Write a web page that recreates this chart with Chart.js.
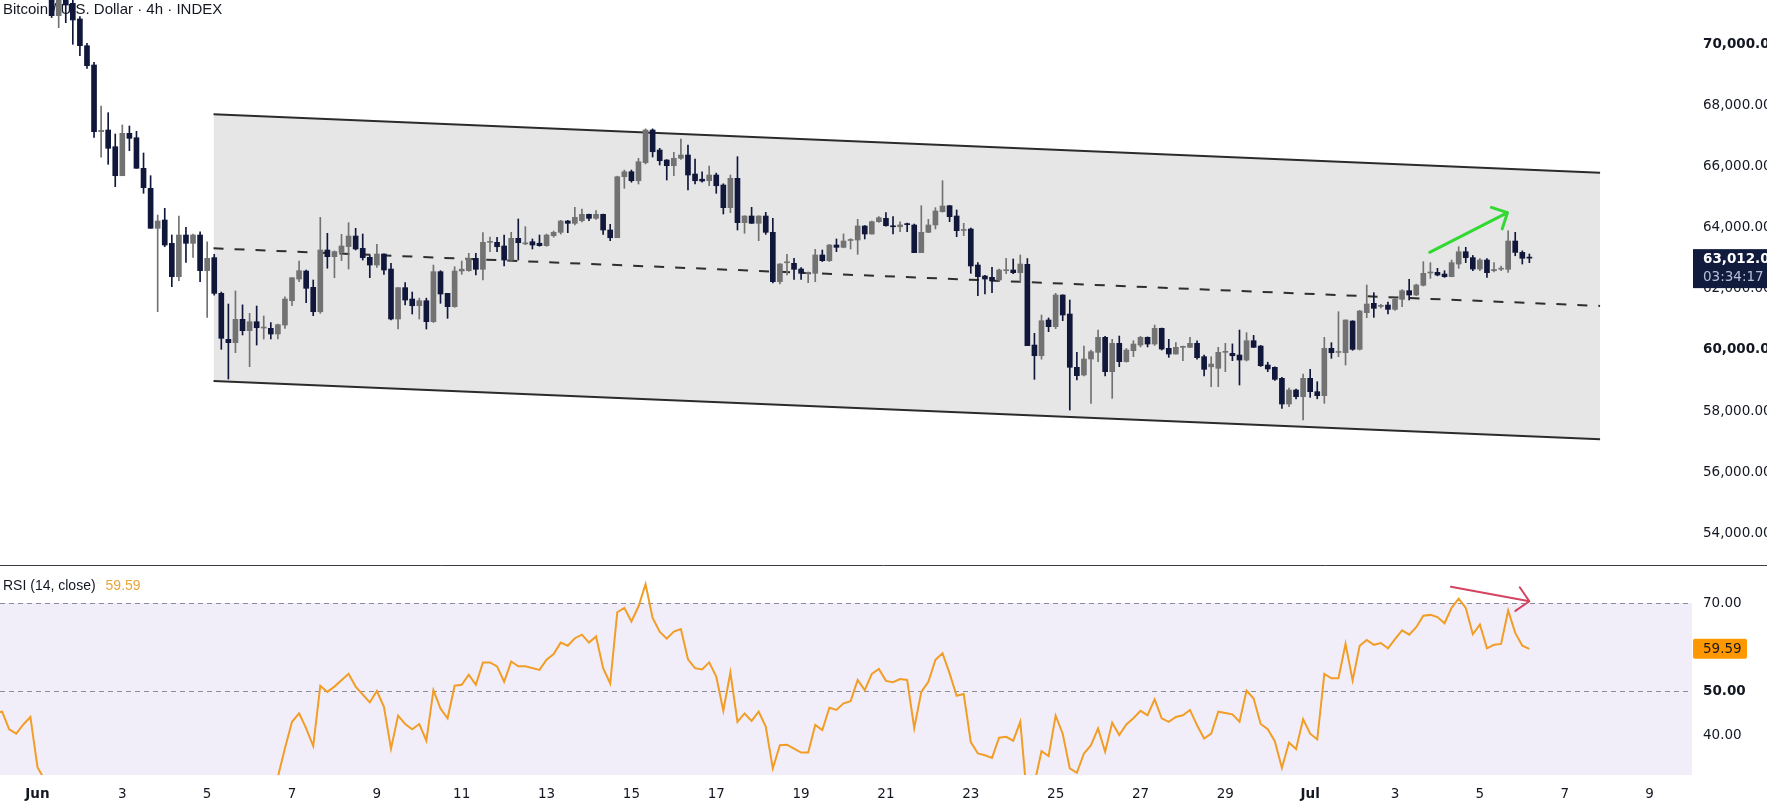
<!DOCTYPE html>
<html>
<head>
<meta charset="utf-8">
<script src="https://cdn.jsdelivr.net/npm/chart.js@4.4.1/dist/chart.umd.min.js"></script>
<style>
  html, body { margin: 0; padding: 0; background: #ffffff; overflow: hidden; }
  #graficoPreco { position: absolute; left: 0; top: 0; }
  #graficoRsi { position: absolute; left: 0; top: 565px; }
</style>
</head>
<body>
<canvas id="graficoPreco" width="1767" height="565"></canvas>
<canvas id="graficoRsi" width="1767" height="237"></canvas>
<script>
// candles, 4h bars; bar index 1 = Jun 1 00:00
const primeiraBarra = 3;
const aberturas = [
  71750,70961,71650,71367,70853,69977,69344,67160,67213,66665,
  65714,67104,66960,65957,65300,63990,64262,63498,62405,63770,
  63498,63770,62602,63028,61858,60350,60240,61005,60633,60928,
  60720,60710,60524,60819,61616,62327,62590,62055,61255,63278,
  63060,63200,63390,63737,63333,63039,62786,63147,62655,61016,
  62044,61671,61452,61616,60928,62568,61858,61420,62590,62600,
  63006,62645,63530,63530,63410,62950,63661,63480,63550,63500,
  63420,63748,63858,64229,64153,64240,64449,64317,64449,63934,
  63681,65681,65845,65550,66140,67213,66557,66229,66042,66285,
  66393,65770,65600,65550,65737,65409,64666,65628,64174,64393,
  64153,64393,63858,62240,62860,62842,62655,62514,62514,63115,
  62928,63442,63366,63590,63606,64065,63803,64207,64317,64060,
  64040,64130,64098,63190,63858,64098,64535,64731,64393,63920,
  63967,62786,62426,62383,62295,62600,62623,62535,62808,60163,
  59813,60983,60764,61803,61180,59432,59180,59705,59924,60415,
  59290,60218,59617,59977,60163,60415,60196,60710,60054,59868,
  60087,60087,60218,59781,59450,59400,59923,59890,59835,59671,
  60305,60130,59508,59432,59071,58229,58688,58470,59071,58634,
  58503,60054,59920,59911,60950,60022,61223,61530,61430,61475,
  61333,61661,61945,61803,62120,62525,62546,62490,62405,62819,
  63222,63028,62655,62950,62600,62650,62645,63573,63200,63040
];
const maximas = [
  71900,71900,71800,71500,70928,70055,69432,68000,67780,67082,
  67377,67344,67170,66459,65714,64426,64645,63770,64393,64022,
  63800,63878,63550,63137,61900,61507,61934,61480,61202,61442,
  61114,60900,60850,61747,62370,62917,62620,62295,64350,63826,
  63250,63793,64174,63990,63803,63100,63465,63150,62842,62044,
  62208,61900,61700,61700,62786,62600,61858,62732,62917,63170,
  63170,63847,63700,63694,63770,63858,64295,64043,63640,63770,
  63800,63900,64250,64250,64678,64623,64460,64570,64460,64120,
  65700,65900,65900,66285,67250,67250,66612,66240,66481,66918,
  66721,66262,65845,66032,65800,65450,65737,66338,64400,64678,
  64400,64514,64317,62830,63137,63006,62700,62560,63300,63278,
  63460,63640,63803,63650,64284,64080,64230,64371,64503,64371,
  64200,64160,64130,64731,64284,64666,65550,64740,64590,64153,
  64000,62863,62450,62711,62650,63006,62983,63115,63000,60546,
  61147,61050,61858,61810,61639,59924,60130,60000,60655,60450,
  60350,60458,60050,60306,60450,60430,60819,60720,60350,60240,
  60130,60415,60300,59830,59781,60087,60218,60200,60655,60567,
  60480,60150,59600,59450,59100,58750,58720,59213,59366,58960,
  60415,60240,61255,60990,60960,61300,62131,61880,61500,61570,
  61700,61980,62317,62160,62894,62863,62677,62600,62950,63386,
  63366,63100,63000,63000,62863,62750,63911,63858,63250,63147
];
const minimas = [
  70900,70567,70731,70022,69650,69235,66973,66318,66088,65354,
  65714,66534,65957,65137,63990,61255,63386,62075,62273,62875,
  63039,62240,61071,61800,60022,59048,59912,60491,59453,60163,
  60360,60360,60360,60710,61452,62240,61550,61124,61202,62680,
  62370,62930,62655,63280,62950,62370,62710,62480,60983,60688,
  61475,61180,61016,60688,60900,61530,61038,61400,62480,62580,
  62458,62295,63222,63222,62754,62940,62950,63450,63311,63400,
  63400,63700,63800,63847,64100,64200,64240,64280,63793,63583,
  63681,65300,65500,65442,66100,66328,66065,65573,65714,66250,
  65245,65442,65500,65386,65137,64459,64503,63934,63826,64150,
  63583,63793,62200,62163,62458,62317,62317,62208,62240,62900,
  62900,63222,63350,63311,63137,63640,63800,64180,64060,63803,
  63880,63880,63190,63190,63850,63967,64520,64207,63716,63748,
  62514,61780,61836,61880,62250,62500,62500,62240,60141,59038,
  59700,60600,60700,60961,58032,59015,59150,58251,59617,59148,
  58415,59453,59600,59781,60100,60100,60150,60000,59759,59860,
  59650,60080,59700,59147,58798,58798,59290,59650,58852,59640,
  60080,59460,59290,59000,58087,58141,58400,57704,58448,58400,
  58251,59727,59781,59508,59990,60000,61059,61071,61380,61180,
  61300,61420,61639,61780,62100,62350,62430,62380,62400,62677,
  62863,62600,62600,62383,62560,62600,62546,63090,62819,62863
];
const fechamentos = [
  70961,71600,71311,70820,69977,69321,67157,67200,66613,65714,
  67104,66940,65957,65321,63990,64229,63442,62405,63770,63498,
  63770,62602,63006,61858,60383,60240,61005,60633,60928,60731,
  60735,60524,60830,61671,62370,62600,62022,61255,63278,63060,
  63225,63410,63737,63311,63028,62786,63147,62623,61016,62044,
  61638,61452,61616,60928,62568,61836,61420,62590,62650,63006,
  62645,63530,63560,63386,62950,63661,63517,63500,63442,63420,
  63770,63858,64229,64153,64350,64449,64317,64449,63934,63681,
  65681,65845,65550,66173,67213,66501,66206,66042,66285,66393,
  65737,65550,65540,65737,65386,64666,65628,64174,64393,64153,
  64393,63858,62240,62819,62880,62645,62514,62540,63115,62928,
  63442,63366,63573,63610,64065,63803,64207,64338,64075,64040,
  64100,64110,63190,63858,64098,64557,64721,64371,63913,63940,
  62754,62405,62327,62273,62623,62620,62535,62819,60141,59813,
  60961,60764,61803,61147,59432,59158,59705,59945,60415,59290,
  60218,59617,60000,60196,60415,60196,60710,60032,59868,60087,
  60100,60218,59748,59366,59540,59923,59935,59813,59671,60305,
  60087,59485,59377,59038,58229,58688,58470,59071,58634,58503,
  60054,59911,59940,60983,60022,61278,61507,61366,61450,61333,
  61661,61945,61803,62131,62514,62545,62458,62405,62863,63222,
  63028,62655,62950,62535,62640,62670,63573,63200,63006,63012.09
];

const rsiBarras = [
  -5,-4,-3,-2,-1,0,1,2,8,18,28,35,36,37,38,39,40,41,42,43,45,46,48,49,50,
  51,52,53,54,55,56,57,58,59,60,61,62,63,64,65,66,67,68,69,70,72,73,74,75,
  76,77,78,79,80,81,82,83,84,85,86,87,88,89,90,91,92,93,94,95,96,97,98,99,
  100,101,102,103,104,105,106,107,108,109,110,111,112,113,114,115,116,117,
  118,119,120,121,122,123,124,125,126,127,128,129,130,131,132,133,134,135,
  136,137,138,139,140,141,142,143,144,145,146,147,148,149,150,151,152,153,
  154,155,156,157,158,159,160,161,162,163,164,165,166,167,168,169,170,171,
  172,173,174,175,176,177,178,179,180,181,182,183,184,185,186,187,188,189,
  190,191,192,193,194,195,196,197,198,199,200,201,202,203,204,205,206,207,
  208,209,210,211,212
];
const rsiValores = [
  45.0,45.3,41.3,40.3,42.4,44.1,32.7,29.8,22,20,24,30.5,37,43,44.9,41.5,37.5,51.2,49.8,51,53.9,51,47.4,50,46.4,
  36.9,44.4,42.5,41.3,42.5,38.7,50.2,46,43.8,51.2,51.4,53.7,51.4,56.5,56.5,55.6,52.1,56.7,55.6,55.6,54.8,57.1,58.4,61,
  60.3,62,62.8,61,62.4,55.2,51.7,67.9,68.9,65.8,69.2,74.3,66.6,63.5,61.9,63.5,64.1,57.2,55.2,54.9,56.5,53.3,45.5,54.2,
  43,44.9,43.2,45.3,41.9,32.4,37.7,37.8,36.9,36,36,42.3,41.1,46.2,45.7,47.2,47.7,52.5,
  50.2,53.9,55,52.3,52,52.7,52.5,41.6,49.8,52.1,57.1,58.6,54,48.9,49.3,38.4,35.8,35.4,
  34.8,39.4,39.6,38.7,43,25,29,36.3,35.2,44.4,40.3,32.4,31.4,35.8,37.7,41.5,36.2,42.8,
  40,42.4,43.8,45.5,44.5,48.1,43.8,43,44.1,44.5,45.7,42.2,39.2,40.3,45.3,45,44.7,43,
  50.1,48.3,42.5,41.3,38.6,32.5,38.3,36.8,43.6,40.3,39,53.9,52.9,52.9,60.7,52.4,60.3,61.6,
  60.5,60.9,59.7,61.8,63.8,62.8,64.5,67.1,67.3,66.8,65.4,68.9,71,68.9,62.9,65.1,59.7,60.5,
  60.7,68.3,63.2,60.3,59.59
];
const rsiNiveis = [70, 50, 30];

// drawn channel and arrows (bar index, price)
const canalX = [25.9, 222.0];
const canalTopo = [67728, 65813];
const canalMeio = [63334, 61445];
const canalBase = [58983, 57072];
const setaPrecoX = [197.9, 208.9];
const setaPrecoY = [63203, 64502];
const setaRsiX = [200.9, 212.0];
const setaRsiY = [73.7, 70.4];

// axes
const diasBarras = [1,13,25,37,49,61,73,85,97,109,121,133,145,157,169,181,193,205,217,229];
const diasRotulos = ["Jun","3","5","7","9","11","13","15","17","19","21","23","25","27","29","Jul","3","5","7","9"];
const precoTicks = [54000,56000,58000,60000,62000,64000,66000,68000,70000];
const precoNegrito = [60000, 70000];
const rsiTicks = [40, 50, 60, 70];
const rsiNegrito = [50];

const titulo = "Bitcoin / U.S. Dollar \u00b7 4h \u00b7 INDEX";
const contagem = "03:34:17";
const xMin = -4.3, xMax = 235.0;

const corAlta = "#727272";
const corBaixa = "#10173a";
const fonteEixo = "DejaVu Sans";
const tamEixo = 13.5;

Chart.defaults.font.family = fonteEixo;
Chart.defaults.color = "#131722";

const corBarra = fechamentos.map((c, i) => (c >= aberturas[i] ? corAlta : corBaixa));
const corpos = fechamentos.map((c, i) => ({ x: primeiraBarra + i, y: [aberturas[i], c] }));
const pavios = fechamentos.map((c, i) => ({ x: primeiraBarra + i, y: [minimas[i], maximas[i]] }));

function desenharSeta(chart, xs, ys, cor, largura) {
  const { ctx, scales } = chart;
  const x1 = scales.x.getPixelForValue(xs[0]);
  const y1 = scales.y.getPixelForValue(ys[0]);
  const x2 = scales.x.getPixelForValue(xs[1]);
  const y2 = scales.y.getPixelForValue(ys[1]);
  const ang = Math.atan2(y2 - y1, x2 - x1);
  const ponta = 17;
  ctx.save();
  ctx.strokeStyle = cor;
  ctx.lineWidth = largura;
  ctx.lineCap = "round";
  ctx.lineJoin = "round";
  ctx.beginPath();
  ctx.moveTo(x1, y1);
  ctx.lineTo(x2, y2);
  ctx.moveTo(x2 - ponta * Math.cos(ang - Math.PI / 4), y2 - ponta * Math.sin(ang - Math.PI / 4));
  ctx.lineTo(x2, y2);
  ctx.lineTo(x2 - ponta * Math.cos(ang + Math.PI / 4), y2 - ponta * Math.sin(ang + Math.PI / 4));
  ctx.stroke();
  ctx.restore();
}

function formatarPreco(v) {
  return v.toLocaleString("en-US", { minimumFractionDigits: 2, maximumFractionDigits: 2 });
}

// sem folga automática em volta dos eixos
function semFolga(scale) {
  scale.paddingTop = 0;
  scale.paddingBottom = 0;
  scale.paddingLeft = 0;
  scale.paddingRight = 0;
}

// Plugin do painel de preço: título, seta verde e etiqueta do último preço
const extrasPreco = {
  id: "extrasPreco",
  beforeDatasetsDraw(chart) {
    const ctx = chart.ctx;
    ctx.save();
    ctx.font = '15px "Liberation Sans"';
    ctx.fillStyle = "#131722";
    ctx.textBaseline = "middle";
    ctx.fillText(titulo, 3, 10);
    ctx.restore();
  },
  afterDatasetsDraw(chart) {
    desenharSeta(chart, setaPrecoX, setaPrecoY, "#33d933", 3);
  },
  afterDraw(chart) {
    const ctx = chart.ctx;
    const ultimo = fechamentos[fechamentos.length - 1];
    const py = chart.scales.y.getPixelForValue(ultimo);
    const left = chart.chartArea.right + 1;
    ctx.save();
    ctx.fillStyle = "#111b3d";
    ctx.fillRect(left, py - 9, chart.width - left, 39);
    ctx.textBaseline = "middle";
    ctx.fillStyle = "#ffffff";
    ctx.font = "bold " + tamEixo + "px " + fonteEixo;
    ctx.fillText(formatarPreco(ultimo), 1703, py + 1);
    ctx.fillStyle = "#b9c0d6";
    ctx.font = tamEixo + "px " + fonteEixo;
    ctx.fillText(contagem, 1703, py + 19);
    ctx.restore();
  }
};

// Plugin do painel RSI: faixa, níveis, legenda, seta vermelha e etiqueta
const extrasRsi = {
  id: "extrasRsi",
  beforeDatasetsDraw(chart) {
    const { ctx, chartArea, scales } = chart;
    const yTopo = scales.y.getPixelForValue(rsiNiveis[0]);
    const yBase = scales.y.getPixelForValue(rsiNiveis[2]);
    ctx.save();
    ctx.beginPath();
    ctx.rect(chartArea.left, chartArea.top, chartArea.right - chartArea.left, chartArea.bottom - chartArea.top);
    ctx.clip();
    ctx.fillStyle = "rgba(126, 87, 194, 0.1)";
    ctx.fillRect(chartArea.left, yTopo, chartArea.right - chartArea.left, yBase - yTopo);
    ctx.strokeStyle = "#8a8d96";
    ctx.lineWidth = 1;
    ctx.setLineDash([5, 4]);
    rsiNiveis.forEach((n) => {
      const y = Math.round(scales.y.getPixelForValue(n)) + 0.5;
      ctx.beginPath();
      ctx.moveTo(chartArea.left, y);
      ctx.lineTo(chartArea.right, y);
      ctx.stroke();
    });
    ctx.restore();

    ctx.save();
    ctx.textBaseline = "middle";
    ctx.font = '14px "Liberation Sans"';
    ctx.fillStyle = "#131722";
    const legenda = "RSI (14, close)";
    ctx.fillText(legenda, 3, 21);
    const w = ctx.measureText(legenda).width;
    ctx.fillStyle = "#e9a63a";
    ctx.fillText(rsiValores[rsiValores.length - 1].toFixed(2), 3 + w + 10, 21);
    ctx.restore();
  },
  afterDatasetsDraw(chart) {
    desenharSeta(chart, setaRsiX, setaRsiY, "#d4435f", 2);
  },
  afterDraw(chart) {
    const ctx = chart.ctx;
    ctx.save();
    ctx.strokeStyle = "#3a3d45";
    ctx.lineWidth = 1;
    ctx.beginPath();
    ctx.moveTo(0, 0.5);
    ctx.lineTo(chart.width, 0.5);
    ctx.stroke();

    const ultimo = rsiValores[rsiValores.length - 1];
    const py = chart.scales.y.getPixelForValue(ultimo);
    const left = chart.chartArea.right + 1;
    ctx.fillStyle = "#ff9800";
    ctx.beginPath();
    ctx.roundRect(left, py - 10, 54, 20, 2);
    ctx.fill();
    ctx.fillStyle = "#1b1b1b";
    ctx.font = tamEixo + "px " + fonteEixo;
    ctx.textBaseline = "middle";
    ctx.fillText(ultimo.toFixed(2), 1703, py + 1);
    ctx.restore();
  }
};

const eixoX = {
  type: "linear",
  min: xMin,
  max: xMax,
  offset: false,
  grid: { display: false, drawTicks: false },
  border: { display: false }
};

new Chart(document.getElementById("graficoPreco"), {
  type: "bar",
  data: {
    datasets: [
      {
        label: "corpo",
        data: corpos,
        backgroundColor: corBarra,
        barThickness: 5,
        minBarLength: 1,
        grouped: false
      },
      {
        label: "pavio",
        data: pavios,
        backgroundColor: corBarra,
        barThickness: 1,
        grouped: false
      },
      {
        type: "line",
        label: "meio",
        data: canalX.map((x, i) => ({ x: x, y: canalMeio[i] })),
        borderColor: "#2e2e2e",
        borderWidth: 2,
        borderDash: [10, 11],
        pointRadius: 0,
        fill: false
      },
      {
        type: "line",
        label: "base",
        data: canalX.map((x, i) => ({ x: x, y: canalBase[i] })),
        borderColor: "#2b2b2b",
        borderWidth: 2,
        pointRadius: 0,
        fill: false
      },
      {
        type: "line",
        label: "topo",
        data: canalX.map((x, i) => ({ x: x, y: canalTopo[i] })),
        borderColor: "#2b2b2b",
        borderWidth: 2,
        pointRadius: 0,
        backgroundColor: "#e6e6e6",
        fill: "-1"
      }
    ]
  },
  options: {
    responsive: false,
    animation: false,
    layout: { padding: 0, autoPadding: false },
    plugins: { legend: { display: false }, tooltip: { enabled: false } },
    scales: {
      x: Object.assign({}, eixoX, { display: false }),
      y: {
        position: "right",
        min: 52951,
        max: 71475,
        grid: { display: false, drawTicks: false },
        border: { display: false },
        afterBuildTicks: (scale) => { scale.ticks = precoTicks.map((v) => ({ value: v })); },
        afterFit: (scale) => { scale.width = 75; semFolga(scale); },
        ticks: {
          padding: 11,
          autoSkip: false,
          color: "#131722",
          font: (c) => ({ family: fonteEixo, size: tamEixo, weight: c.tick && precoNegrito.includes(c.tick.value) ? "bold" : "normal" }),
          callback: (v) => formatarPreco(v)
        }
      }
    }
  },
  plugins: [extrasPreco]
});

new Chart(document.getElementById("graficoRsi"), {
  type: "line",
  data: {
    datasets: [
      {
        label: "RSI",
        data: rsiBarras.map((b, i) => ({ x: b, y: rsiValores[i] })),
        borderColor: "#f29d26",
        borderWidth: 2,
        pointRadius: 0,
        tension: 0,
        fill: false
      }
    ]
  },
  options: {
    responsive: false,
    animation: false,
    layout: { padding: { top: 1, left: 0, right: 0, bottom: 0 }, autoPadding: false },
    plugins: { legend: { display: false }, tooltip: { enabled: false } },
    scales: {
      x: Object.assign({}, eixoX, {
        afterBuildTicks: (scale) => { scale.ticks = diasBarras.map((v) => ({ value: v })); },
        afterFit: (scale) => { scale.height = 27; semFolga(scale); },
        ticks: {
          padding: 11,
          autoSkip: false,
          maxRotation: 0,
          color: "#131722",
          font: (c) => ({ family: fonteEixo, size: tamEixo, weight: c.tick && (c.tick.value === 1 || c.tick.value === 181) ? "bold" : "normal" }),
          callback: (v) => diasRotulos[diasBarras.indexOf(v)]
        }
      }),
      y: {
        position: "right",
        min: 30.91,
        max: 78.41,
        grid: { display: false, drawTicks: false },
        border: { display: false },
        afterBuildTicks: (scale) => { scale.ticks = rsiTicks.map((v) => ({ value: v })); },
        afterFit: (scale) => { scale.width = 75; semFolga(scale); },
        ticks: {
          padding: 11,
          autoSkip: false,
          color: "#131722",
          font: (c) => ({ family: fonteEixo, size: tamEixo, weight: c.tick && rsiNegrito.includes(c.tick.value) ? "bold" : "normal" }),
          callback: (v) => v.toFixed(2)
        }
      }
    }
  },
  plugins: [extrasRsi]
});
</script>
</body>
</html>
